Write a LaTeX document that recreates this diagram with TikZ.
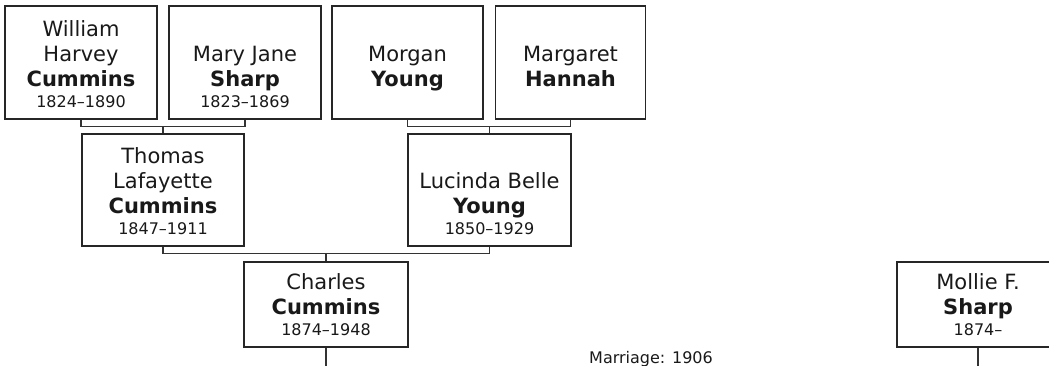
\documentclass[tikz,border=0pt]{standalone}
\usepackage{fontspec}
\setmainfont{DejaVu Sans}
\newcommand{\datefont}{\fontsize{16}{20}\selectfont}
\tikzset{
  person/.style={draw=black!85, line width=1.3pt, fill=white, inner sep=0pt},
  txt/.style={anchor=base, inner sep=0pt, font=\fontsize{21}{25}\selectfont, text=black!90},
  bold/.style={txt, font=\fontsize{21}{25}\selectfont\bfseries},
  datetxt/.style={anchor=base, inner sep=0pt, font=\datefont, text=black!90},
  link/.style={draw=black!80, line width=1.1pt},
  note/.style={font=\datefont, text=black!90, inner sep=0pt}
}
% id, x, box bottom, line 1, line 2, bold surname, dates
\newcommand\ptext[7]{%
  \pgfmathsetmacro\yd{#3-11.7}%
  \pgfmathsetmacro\yb{\yd-20.5}%
  \pgfmathsetmacro\ytwo{\yb-25}%
  \pgfmathsetmacro\yone{\ytwo-25.5}%
  \if\relax\detokenize{#4}\relax\else\node[txt] (#1-a) at (#2,\yone) {#4};\fi
  \if\relax\detokenize{#5}\relax\else\node[txt] (#1-b) at (#2,\ytwo) {#5};\fi
  \node[bold] (#1-c) at (#2,\yb) {#6};
  \if\relax\detokenize{#7}\relax\else\node[datetxt] (#1-d) at (#2,\yd) {#7};\fi
}
\begin{document}
\begin{tikzpicture}[x=1pt,y=-1pt]
\useasboundingbox (0,0) rectangle (1049,366);
\clip (0,0) rectangle (1049,366);
% boxes
\node[person, minimum width=152pt, minimum height=113pt] (wh) at (81,62.5) {};
\node[person, minimum width=152pt, minimum height=113pt] (mj) at (245,62.5) {};
\node[person, minimum width=151pt, minimum height=113pt] (my) at (407.5,62.5) {};
\node[person, minimum width=150pt, minimum height=113pt] (mh) at (570.5,62.5) {};
\node[person, minimum width=162pt, minimum height=112pt] (tl) at (163,190) {};
\node[person, minimum width=163pt, minimum height=112pt] (lb) at (489.5,190) {};
\node[person, minimum width=164pt, minimum height=85pt] (cc) at (326,304.5) {};
\node[person, minimum width=162pt, minimum height=85pt] (ms) at (978,304.5) {};
% texts
\ptext{wh}{81}{119}{William}{Harvey}{Cummins}{1824–1890}
\ptext{mj}{245}{119}{}{Mary Jane}{Sharp}{1823–1869}
\ptext{my}{407.5}{119}{}{Morgan}{Young}{}
\ptext{mh}{570.5}{119}{}{Margaret}{Hannah}{}
\ptext{tl}{163}{246}{Thomas}{Lafayette}{Cummins}{1847–1911}
\ptext{lb}{489.5}{246}{}{Lucinda Belle}{Young}{1850–1929}
\ptext{cc}{326}{347}{}{Charles}{Cummins}{1874–1948}
\ptext{ms}{978}{347}{}{Mollie F.}{Sharp}{1874–}
\node[note, anchor=base] (mar) at (651,363) {Marriage: 1906};
% connectors
\coordinate (j1) at ([yshift=-6.5pt]wh.south -| tl.north);
\draw[link] (wh.south) |- (j1) -| (mj.south);
\draw[link] (j1) -- (tl.north);
\coordinate (j2) at ([yshift=-6.5pt]my.south -| lb.north);
\draw[link] (my.south) |- (j2) -| (mh.south);
\draw[link] (j2) -- (lb.north);
\coordinate (j3) at ([yshift=-7pt]tl.south -| cc.north);
\draw[link] (tl.south) |- (j3) -| (lb.south);
\draw[link] (j3) -- (cc.north);
\coordinate (e1) at (cc.south |- 0,370);
\coordinate (e2) at (ms.south |- 0,370);
\draw[link] (cc.south) -- (e1);
\draw[link] (ms.south) -- (e2);
\end{tikzpicture}
\end{document}
